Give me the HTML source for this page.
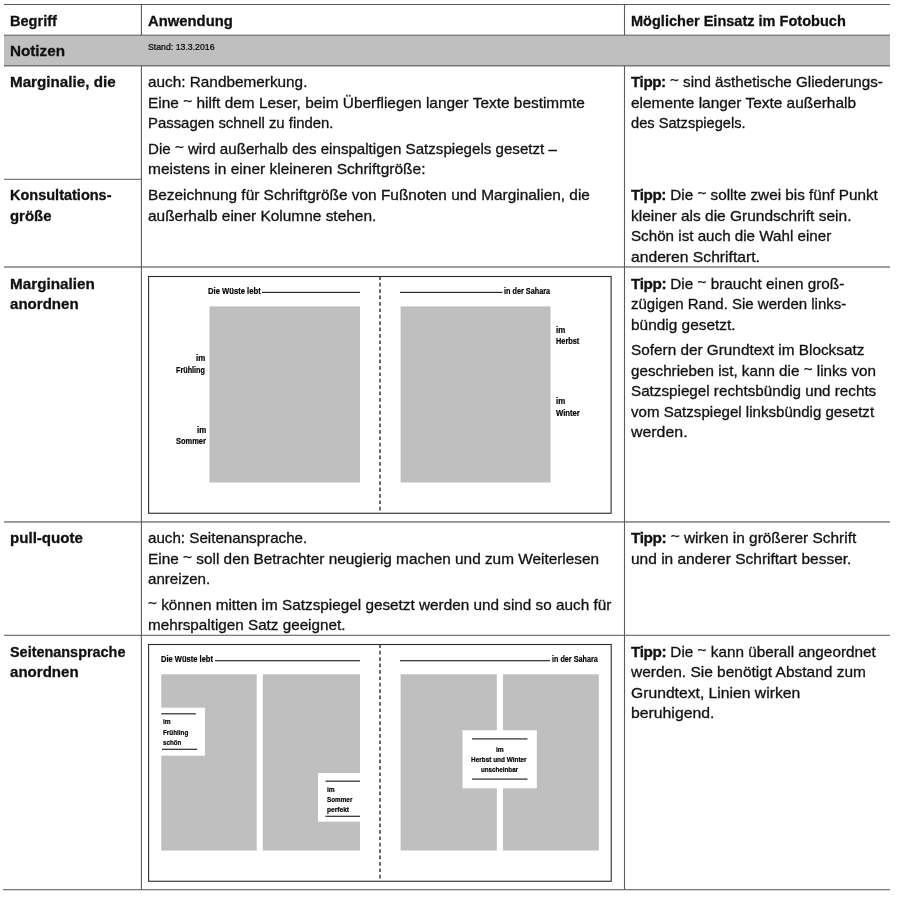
<!DOCTYPE html>
<html lang="de"><head><meta charset="utf-8"><title>Notizen – Marginalie</title>
<style>
html,body{margin:0;padding:0;background:#fff;}
body{width:900px;height:899px;position:relative;overflow:hidden;font-family:"Liberation Sans",sans-serif;color:#111;}
#txt{position:absolute;left:0;top:0;width:900px;height:899px;will-change:transform;}
.s{position:absolute;}
.t{position:absolute;white-space:nowrap;line-height:1;transform-origin:0 0;font-weight:400;-webkit-text-stroke:0.3px #111;}
.t.sm{-webkit-text-stroke:0.2px #000;color:#000;}
.t.b{font-weight:700;}
.t b{font-weight:700;letter-spacing:-0.4px;}
.ti{position:relative;top:-2.2px;font-size:1em;}
</style></head><body>

<svg class="s" style="left:0;top:0" width="900" height="899" viewBox="0 0 900 899">
<rect x="4.00" y="35.50" width="886.00" height="30.50" fill="#bfbfbf"/>
<rect x="4.00" y="3.98" width="886.00" height="1.05" fill="#5c5c5c"/>
<rect x="4.00" y="34.68" width="886.00" height="1.05" fill="#5c5c5c"/>
<rect x="4.00" y="634.77" width="886.00" height="1.05" fill="#5c5c5c"/>
<rect x="4.00" y="65.15" width="886.00" height="1.30" fill="#6a6a6a"/>
<rect x="4.00" y="266.35" width="886.00" height="1.30" fill="#6a6a6a"/>
<rect x="4.00" y="521.30" width="886.00" height="1.30" fill="#6a6a6a"/>
<rect x="3.00" y="889.18" width="887.00" height="1.05" fill="#5c5c5c"/>
<rect x="4.00" y="178.80" width="137.40" height="1.00" fill="#5c5c5c"/>
<rect x="140.85" y="4.50" width="1.10" height="30.70" fill="#5c5c5c"/>
<rect x="140.85" y="65.80" width="1.10" height="823.90" fill="#5c5c5c"/>
<rect x="623.95" y="4.50" width="1.10" height="30.70" fill="#5c5c5c"/>
<rect x="623.95" y="65.80" width="1.10" height="823.90" fill="#5c5c5c"/>
<rect x="148.60" y="276.50" width="462.50" height="236.75" fill="none" stroke="#2a2a2a" stroke-width="1.1"/>
<rect x="209.50" y="306.40" width="150.50" height="176.10" fill="#bfbfbf"/>
<rect x="400.60" y="306.40" width="149.90" height="176.10" fill="#bfbfbf"/>
<rect x="262.00" y="291.80" width="98.00" height="1.20" fill="#2a2a2a"/>
<rect x="400.00" y="291.80" width="102.50" height="1.20" fill="#2a2a2a"/>
<line x1="380.0" y1="276.4" x2="380.0" y2="513.0" stroke="#3a3a3a" stroke-width="1.5" stroke-dasharray="3.7 2.7"/>
<rect x="148.60" y="644.50" width="462.60" height="236.75" fill="none" stroke="#2a2a2a" stroke-width="1.1"/>
<rect x="161.30" y="674.30" width="95.40" height="176.20" fill="#bfbfbf"/>
<rect x="262.80" y="674.30" width="97.20" height="176.20" fill="#bfbfbf"/>
<rect x="400.60" y="674.30" width="96.20" height="176.20" fill="#bfbfbf"/>
<rect x="503.00" y="674.30" width="95.80" height="176.20" fill="#bfbfbf"/>
<rect x="215.00" y="660.10" width="145.00" height="1.20" fill="#2a2a2a"/>
<rect x="400.00" y="660.10" width="150.00" height="1.20" fill="#2a2a2a"/>
<line x1="380.0" y1="644.4" x2="380.0" y2="881.0" stroke="#3a3a3a" stroke-width="1.5" stroke-dasharray="3.7 2.7"/>
<rect x="160.50" y="707.70" width="44.50" height="48.00" fill="#fff"/>
<rect x="161.30" y="713.20" width="34.50" height="1.20" fill="#2a2a2a"/>
<rect x="162.00" y="748.70" width="35.20" height="1.20" fill="#2a2a2a"/>
<rect x="318.00" y="773.00" width="43.00" height="48.60" fill="#fff"/>
<rect x="325.50" y="780.60" width="34.50" height="1.20" fill="#2a2a2a"/>
<rect x="325.50" y="815.70" width="34.50" height="1.20" fill="#2a2a2a"/>
<rect x="462.50" y="730.30" width="74.30" height="58.00" fill="#fff"/>
<rect x="472.00" y="738.30" width="55.50" height="1.20" fill="#2a2a2a"/>
<rect x="472.00" y="778.50" width="55.50" height="1.20" fill="#2a2a2a"/>
</svg>
<div id="txt">
<div id="l0" class="t b" style="left:10px;top:12.80px;font-size:15.0px;transform:scaleX(0.9696)">Begriff</div>
<div id="l1" class="t b" style="left:148px;top:12.80px;font-size:15.0px;transform:scaleX(0.9884)">Anwendung</div>
<div id="l2" class="t b" style="left:631px;top:12.80px;font-size:15.0px;transform:scaleX(0.9688)">Möglicher Einsatz im Fotobuch</div>
<div id="l3" class="t b" style="left:10px;top:43.30px;font-size:15.0px;transform:scaleX(1.0144)">Notizen</div>
<div id="l4" class="t sm" style="left:148px;top:43.18px;font-size:9.0px;transform:scaleX(0.9703)">Stand: 13.3.2016</div>
<div id="l5" class="t b" style="left:10px;top:74.30px;font-size:15.0px;transform:scaleX(1.0136)">Marginalie, die</div>
<div id="l6" class="t" style="left:148px;top:74.30px;font-size:15.0px;transform:scaleX(1.0222)">auch: Randbemerkung.</div>
<div id="l7" class="t" style="left:148px;top:94.80px;font-size:15.0px;transform:scaleX(1.0270)">Eine <span class="ti">~</span> hilft dem Leser, beim Überfliegen langer Texte bestimmte</div>
<div id="l8" class="t" style="left:148px;top:115.30px;font-size:15.0px;transform:scaleX(0.9931)">Passagen schnell zu finden.</div>
<div id="l9" class="t" style="left:148px;top:140.80px;font-size:15.0px;transform:scaleX(1.0079)">Die <span class="ti">~</span> wird außerhalb des einspaltigen Satzspiegels gesetzt –</div>
<div id="l10" class="t" style="left:148px;top:161.30px;font-size:15.0px;transform:scaleX(1.0335)">meistens in einer kleineren Schriftgröße:</div>
<div id="l11" class="t" style="left:631px;top:74.30px;font-size:15.0px;transform:scaleX(1.0110)"><b>Tipp:</b> <span class="ti">~</span> sind ästhetische Gliederungs-</div>
<div id="l12" class="t" style="left:631px;top:94.80px;font-size:15.0px;transform:scaleX(1.0271)">elemente langer Texte außerhalb</div>
<div id="l13" class="t" style="left:631px;top:115.30px;font-size:15.0px;transform:scaleX(0.9749)">des Satzspiegels.</div>
<div id="l14" class="t b" style="left:10px;top:187.30px;font-size:15.0px;transform:scaleX(0.9666)">Konsultations-</div>
<div id="l15" class="t b" style="left:10px;top:207.80px;font-size:15.0px;transform:scaleX(0.9943)">größe</div>
<div id="l16" class="t" style="left:148px;top:187.30px;font-size:15.0px;transform:scaleX(1.0271)">Bezeichnung für Schriftgröße von Fußnoten und Marginalien, die</div>
<div id="l17" class="t" style="left:148px;top:207.80px;font-size:15.0px;transform:scaleX(1.0292)">außerhalb einer Kolumne stehen.</div>
<div id="l18" class="t" style="left:631px;top:187.30px;font-size:15.0px;transform:scaleX(1.0182)"><b>Tipp:</b> Die <span class="ti">~</span> sollte zwei bis fünf Punkt</div>
<div id="l19" class="t" style="left:631px;top:207.80px;font-size:15.0px;transform:scaleX(1.0329)">kleiner als die Grundschrift sein.</div>
<div id="l20" class="t" style="left:631px;top:228.30px;font-size:15.0px;transform:scaleX(1.0120)">Schön ist auch die Wahl einer</div>
<div id="l21" class="t" style="left:631px;top:248.80px;font-size:15.0px;transform:scaleX(1.0448)">anderen Schriftart.</div>
<div id="l22" class="t b" style="left:10px;top:275.80px;font-size:15.0px;transform:scaleX(1.0175)">Marginalien</div>
<div id="l23" class="t b" style="left:10px;top:296.30px;font-size:15.0px;transform:scaleX(1.0046)">anordnen</div>
<div id="l24" class="t" style="left:631px;top:275.80px;font-size:15.0px;transform:scaleX(1.0199)"><b>Tipp:</b> Die <span class="ti">~</span> braucht einen groß-</div>
<div id="l25" class="t" style="left:631px;top:296.30px;font-size:15.0px;transform:scaleX(1.0009)">zügigen Rand. Sie werden links-</div>
<div id="l26" class="t" style="left:631px;top:316.80px;font-size:15.0px;transform:scaleX(1.0283)">bündig gesetzt.</div>
<div id="l27" class="t" style="left:631px;top:342.30px;font-size:15.0px;transform:scaleX(1.0216)">Sofern der Grundtext im Blocksatz</div>
<div id="l28" class="t" style="left:631px;top:362.80px;font-size:15.0px;transform:scaleX(1.0148)">geschrieben ist, kann die <span class="ti">~</span> links von</div>
<div id="l29" class="t" style="left:631px;top:383.30px;font-size:15.0px;transform:scaleX(1.0141)">Satzspiegel rechtsbündig und rechts</div>
<div id="l30" class="t" style="left:631px;top:403.80px;font-size:15.0px;transform:scaleX(1.0053)">vom Satzspiegel linksbündig gesetzt</div>
<div id="l31" class="t" style="left:631px;top:424.30px;font-size:15.0px;transform:scaleX(1.0597)">werden.</div>
<div id="l32" class="t b" style="left:10px;top:530.30px;font-size:15.0px;transform:scaleX(1.0068)">pull-quote</div>
<div id="l33" class="t" style="left:148px;top:530.30px;font-size:15.0px;transform:scaleX(1.0103)">auch: Seitenansprache.</div>
<div id="l34" class="t" style="left:148px;top:550.80px;font-size:15.0px;transform:scaleX(1.0242)">Eine <span class="ti">~</span> soll den Betrachter neugierig machen und zum Weiterlesen</div>
<div id="l35" class="t" style="left:148px;top:571.30px;font-size:15.0px;transform:scaleX(1.0085)">anreizen.</div>
<div id="l36" class="t" style="left:148px;top:596.80px;font-size:15.0px;transform:scaleX(1.0204)"><span class="ti">~</span> können mitten im Satzspiegel gesetzt werden und sind so auch für</div>
<div id="l37" class="t" style="left:148px;top:617.30px;font-size:15.0px;transform:scaleX(1.0160)">mehrspaltigen Satz geeignet.</div>
<div id="l38" class="t" style="left:631px;top:530.30px;font-size:15.0px;transform:scaleX(1.0281)"><b>Tipp:</b> <span class="ti">~</span> wirken in größerer Schrift</div>
<div id="l39" class="t" style="left:631px;top:550.80px;font-size:15.0px;transform:scaleX(1.0326)">und in anderer Schriftart besser.</div>
<div id="l40" class="t b" style="left:10px;top:643.80px;font-size:15.0px;transform:scaleX(0.9614)">Seitenansprache</div>
<div id="l41" class="t b" style="left:10px;top:664.30px;font-size:15.0px;transform:scaleX(1.0046)">anordnen</div>
<div id="l42" class="t" style="left:631px;top:643.80px;font-size:15.0px;transform:scaleX(1.0200)"><b>Tipp:</b> Die <span class="ti">~</span> kann überall angeordnet</div>
<div id="l43" class="t" style="left:631px;top:664.30px;font-size:15.0px;transform:scaleX(1.0322)">werden. Sie benötigt Abstand zum</div>
<div id="l44" class="t" style="left:631px;top:685.05px;font-size:15.0px;transform:scaleX(1.0460)">Grundtext, Linien wirken</div>
<div id="l45" class="t" style="left:631px;top:704.55px;font-size:15.0px;transform:scaleX(1.0523)">beruhigend.</div>
<div id="l46" class="t b sm" style="left:208px;top:286.67px;font-size:8.3px;transform:scaleX(0.9220)">Die Wüste lebt</div>
<div id="l47" class="t b sm" style="left:504px;top:286.67px;font-size:8.3px;transform:scaleX(0.8769)">in der Sahara</div>
<div id="l48" class="t b sm" style="left:196px;top:353.72px;font-size:8.3px;transform:scaleX(0.9518)">im</div>
<div id="l49" class="t b sm" style="left:176px;top:366.47px;font-size:8.3px;transform:scaleX(0.8727)">Frühling</div>
<div id="l50" class="t b sm" style="left:197px;top:426.47px;font-size:8.3px;transform:scaleX(0.9518)">im</div>
<div id="l51" class="t b sm" style="left:176px;top:437.22px;font-size:8.3px;transform:scaleX(0.8989)">Sommer</div>
<div id="l52" class="t b sm" style="left:556px;top:326.47px;font-size:8.3px;transform:scaleX(0.9518)">im</div>
<div id="l53" class="t b sm" style="left:556px;top:337.22px;font-size:8.3px;transform:scaleX(0.8859)">Herbst</div>
<div id="l54" class="t b sm" style="left:556px;top:396.72px;font-size:8.3px;transform:scaleX(0.9518)">im</div>
<div id="l55" class="t b sm" style="left:556px;top:409.47px;font-size:8.3px;transform:scaleX(0.9242)">Winter</div>
<div id="l56" class="t b sm" style="left:161px;top:655.27px;font-size:8.3px;transform:scaleX(0.9093)">Die Wüste lebt</div>
<div id="l57" class="t b sm" style="left:552px;top:655.27px;font-size:8.3px;transform:scaleX(0.8704)">in der Sahara</div>
<div id="l58" class="t b sm" style="left:163px;top:717.82px;font-size:7.3px;transform:scaleX(0.9066)">im</div>
<div id="l59" class="t b sm" style="left:163px;top:729.12px;font-size:7.3px;transform:scaleX(0.8660)">Frühling</div>
<div id="l60" class="t b sm" style="left:163px;top:739.22px;font-size:7.3px;transform:scaleX(0.8491)">schön</div>
<div id="l61" class="t b sm" style="left:327px;top:786.22px;font-size:7.3px;transform:scaleX(0.9097)">im</div>
<div id="l62" class="t b sm" style="left:327px;top:795.52px;font-size:7.3px;transform:scaleX(0.8686)">Sommer</div>
<div id="l63" class="t b sm" style="left:327px;top:805.52px;font-size:7.3px;transform:scaleX(0.9069)">perfekt</div>
<div id="l64" class="t b sm" style="left:496px;top:746.32px;font-size:7.3px;transform:scaleX(0.9099)">im</div>
<div id="l65" class="t b sm" style="left:471px;top:756.07px;font-size:7.3px;transform:scaleX(0.8805)">Herbst und Winter</div>
<div id="l66" class="t b sm" style="left:481px;top:766.07px;font-size:7.3px;transform:scaleX(0.8538)">unscheinbar</div>
</div>
</body></html>
